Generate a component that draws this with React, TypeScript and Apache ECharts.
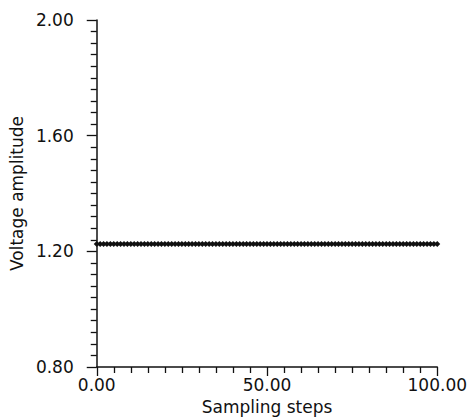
import React, { useEffect, useRef } from "react";
import * as echarts from "echarts";

const xTicks = [0, 50, 100];
const yTicks = [0.8, 1.2, 1.6, 2.0];
const voltage = [
  1.225, 1.225, 1.225, 1.225, 1.225, 1.225, 1.225, 1.225, 1.225, 1.225,
  1.225, 1.225, 1.225, 1.225, 1.225, 1.225, 1.225, 1.225, 1.225, 1.225,
  1.225, 1.225, 1.225, 1.225, 1.225, 1.225, 1.225, 1.225, 1.225, 1.225,
  1.225, 1.225, 1.225, 1.225, 1.225, 1.225, 1.225, 1.225, 1.225, 1.225,
  1.225, 1.225, 1.225, 1.225, 1.225, 1.225, 1.225, 1.225, 1.225, 1.225,
  1.225, 1.225, 1.225, 1.225, 1.225, 1.225, 1.225, 1.225, 1.225, 1.225,
  1.225, 1.225, 1.225, 1.225, 1.225, 1.225, 1.225, 1.225, 1.225, 1.225,
  1.225, 1.225, 1.225, 1.225, 1.225, 1.225, 1.225, 1.225, 1.225, 1.225,
  1.225, 1.225, 1.225, 1.225, 1.225, 1.225, 1.225, 1.225, 1.225, 1.225,
  1.225, 1.225, 1.225, 1.225, 1.225, 1.225, 1.225, 1.225, 1.225, 1.225,
  1.225,
];

export default function App() {
  const ref = useRef<HTMLDivElement>(null);
  useEffect(() => {
    if (!ref.current) return;
    const chart = echarts.init(ref.current, null, { renderer: "svg" });
    const font = "'DejaVu Sans', sans-serif";
    chart.setOption({
      animation: false,
      backgroundColor: "#fff",
      grid: { left: 96, right: 29, top: 20, bottom: 53 },
      xAxis: {
        type: "value",
        min: xTicks[0],
        max: xTicks[xTicks.length - 1],
        interval: xTicks[1] - xTicks[0],
        name: "Sampling steps",
        nameLocation: "middle",
        nameGap: 31,
        nameTextStyle: { color: "#111", fontSize: 17, fontFamily: font },
        axisLine: { show: true, lineStyle: { color: "#111", width: 1.5 } },
        axisTick: { show: true, length: 9, lineStyle: { color: "#111", width: 1.3 } },
        minorTick: { show: true, splitNumber: 10, length: 6, lineStyle: { color: "#111", width: 1.3 } },
        splitLine: { show: false },
        axisLabel: {
          color: "#111",
          fontSize: 17,
          fontFamily: font,
          margin: 9,
          formatter: (v: number) => v.toFixed(2),
        },
      },
      yAxis: {
        type: "value",
        min: yTicks[0],
        max: yTicks[yTicks.length - 1],
        interval: 0.4,
        name: "Voltage amplitude",
        nameLocation: "middle",
        nameGap: 68,
        nameTextStyle: { color: "#111", fontSize: 17, fontFamily: font },
        axisLine: { show: true, lineStyle: { color: "#111", width: 1.5 } },
        axisTick: { show: true, length: 10, lineStyle: { color: "#111", width: 1.3 } },
        minorTick: { show: true, splitNumber: 10, length: 6, lineStyle: { color: "#111", width: 1.3 } },
        splitLine: { show: false },
        axisLabel: {
          color: "#111",
          fontSize: 17,
          fontFamily: font,
          margin: 23,
          formatter: (v: number) => v.toFixed(2),
        },
      },
      series: [
        {
          type: "line",
          data: voltage.map((v, i) => [i, v]),
          symbol: "diamond",
          symbolSize: 6,
          showSymbol: true,
          itemStyle: { color: "#111" },
          lineStyle: { color: "#111", width: 2.5 },
        },
      ],
    });
    return () => chart.dispose();
  }, []);
  return (
    <div
      ref={ref}
      style={{ position: "fixed", left: 0, top: 0, width: 470, height: 420 }}
    />
  );
}
